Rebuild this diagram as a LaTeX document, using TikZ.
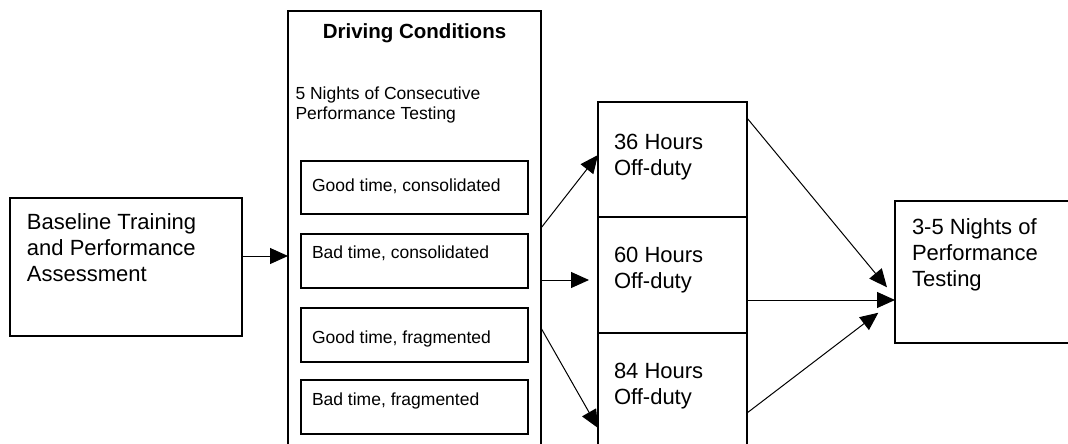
\documentclass[tikz,border=0pt]{standalone}
\usepackage{fontspec}
\setmainfont{Liberation Sans}
\usetikzlibrary{positioning,arrows.meta}
\newcommand{\cell}[5]{\parbox[c][#2][t]{#1}{\raggedright\leftskip=#3\relax\vspace*{#4}#5}}

\begin{document}
\begin{tikzpicture}[x=1pt,y=-1pt,
                    box/.style={draw,line width=1.3pt,inner sep=0pt,outer sep=0pt,
                                anchor=north west},
                    big/.style={font=\fontsize{22}{26}\selectfont},
                    small/.style={font=\fontsize{17.5}{20}\selectfont},
                    arr/.style={-{Triangle[length=18pt,width=16pt]},line width=1pt}]
\useasboundingbox (0,0) rectangle (1068,444);
\clip (0,0) rectangle (1068,444);
\node[box,big]   (base)  at (10,198) {\cell{232pt}{138pt}{17pt}{15.3pt}{Baseline Training\\and Performance\\Assessment}};
\node[box,small] (drive) at (288,11) {\cell{253pt}{459pt}{7.5pt}{12.3pt}{{\centering\bfseries\fontsize{20.5}{24}\selectfont Driving Conditions\par}\vspace{41.5pt}5 Nights of Consecutive\\Performance Testing}};
\node[box,small] (cond1) at (301,161) {\cell{227pt}{53pt}{11pt}{18.3pt}{Good time, consolidated}};
\node[box,small,below=20pt of cond1] (cond2) {\cell{227pt}{54pt}{11pt}{12pt}{Bad time, consolidated}};
\node[box,small,below=20pt of cond2] (cond3) {\cell{227pt}{54pt}{11pt}{23pt}{Good time, fragmented}};
\node[box,small,below=18pt of cond3] (cond4) {\cell{227pt}{54pt}{11pt}{12.7pt}{Bad time, fragmented}};
\node[box,big]   (off36) at (598,102) {\cell{149pt}{115pt}{16pt}{32.3pt}{36 Hours\\Off-duty}};
\node[box,big,below=0pt of off36] (off60) {\cell{149pt}{116pt}{16pt}{30.3pt}{60 Hours\\Off-duty}};
\node[box,big,below=0pt of off60] (off84) {\cell{149pt}{140pt}{16pt}{29.7pt}{84 Hours\\Off-duty}};
\node[box,big]   (final) at (895,201) {\cell{200pt}{142pt}{17pt}{17.3pt}{3-5 Nights of\\Performance\\Testing}};
\draw[arr] (base.east |- 0,256) -- (drive.west |- 0,256);
\draw[arr] (drive.east |- 0,228) -- (off36.west |- 0,155);
\draw[arr,shorten >=9pt] (drive.east |- 0,280) -- (off60.west |- 0,280);
\draw[arr] (drive.east |- 0,328) -- (off84.west |- 0,428);
\draw[arr,shorten >=12.6pt] (off36.east |- 0,118) -- (final.west |- 0,297);
\draw[arr] (off60.east |- 0,300) -- (final.west |- 0,300);
\draw[arr,shorten >=21pt] (off84.east |- 0,413) -- (final.west |- 0,300);
\end{tikzpicture}
\end{document}
